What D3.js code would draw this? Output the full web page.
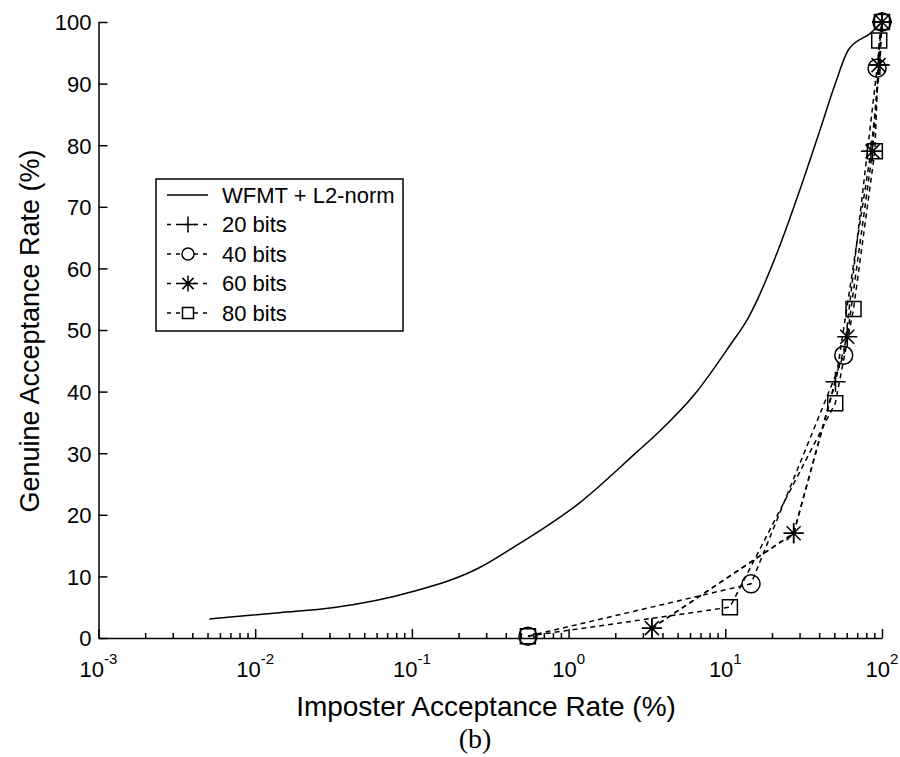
<!DOCTYPE html>
<html>
<head>
<meta charset="utf-8">
<script src="https://cdn.jsdelivr.net/npm/d3@7"></script>
<style>
    body { margin: 0; background: #fff; overflow: hidden; }
    svg { display: block; }
    text { font-family: Arial, "Liberation Sans", sans-serif; fill: #000; }
</style>
</head>
<body>
<div class="svgContainer"></div>
<script>
// solid curve: WFMT + L2-norm
let wfmtX = [0.0051, 0.0143, 0.0312, 0.1, 0.269, 0.437, 1.17, 2.81, 3.61, 6.49, 10.5, 14.1, 21.9, 29.4, 40.6, 50.5, 61.1, 84.5, 100];
let wfmtY = [3.1, 4.1, 4.9, 7.5, 11.4, 14.6, 21.9, 30.5, 33.0, 39.8, 47.2, 52.1, 63.2, 72.2, 82.8, 90.1, 95.5, 98.2, 100];

// dashed curves with markers
let bits20X = [3.4, 27.3, 50.5, 85, 97, 100];
let bits20Y = [1.6, 17.0, 41.6, 79, 93, 100];

let bits40X = [0.55, 14.6, 57, 93, 100];
let bits40Y = [0.3, 8.8, 45.9, 92.5, 100];

let bits60X = [3.4, 27.3, 60, 87, 95, 100];
let bits60Y = [1.6, 17.0, 48.9, 79, 93, 100];

let bits80X = [0.55, 10.7, 50.3, 65.8, 90, 96, 100];
let bits80Y = [0.3, 5.0, 38.1, 53.4, 79, 97, 100];

let legendLabels = ['WFMT + L2-norm', '20 bits', '40 bits', '60 bits', '80 bits'];
let markerTypes = ['plus', 'circle', 'star', 'square'];

let yTicks = [0, 10, 20, 30, 40, 50, 60, 70, 80, 90, 100];
let xTickExponents = [-3, -2, -1, 0, 1, 2];

let width = 900;
let height = 757;

let x = d3.scaleLog().domain([1e-3, 1e2]).range([98.5, 882]);
let y = d3.scaleLinear().domain([0, 100]).range([638, 22]);

let svg = d3.select('.svgContainer')
    .append('svg')
    .attr('width', width)
    .attr('height', height);

// y axis, ticks pointing inward
let yAxis = svg.append('g')
    .attr('transform', 'translate(' + x.range()[0] + ',0)')
    .call(d3.axisLeft(y).tickValues(yTicks).tickSizeInner(-9).tickSizeOuter(0).tickPadding(7));

// x axis, major and minor ticks pointing up
let minorTicks = [];
xTickExponents.slice(0, -1).forEach(function(e) {
    for (let m = 2; m < 10; m++) {
        minorTicks.push(m * Math.pow(10, e));
    }
});

let xAxis = svg.append('g')
    .attr('transform', 'translate(0,' + y(0) + ')')
    .call(d3.axisBottom(x)
        .tickValues(xTickExponents.map(function(e) { return Math.pow(10, e); }))
        .tickSizeInner(-9).tickSizeOuter(0).tickFormat(''));

svg.append('g')
    .selectAll('line')
    .data(minorTicks)
    .enter()
    .append('line')
    .attr('x1', function(d) { return x(d); })
    .attr('x2', function(d) { return x(d); })
    .attr('y1', y(0))
    .attr('y2', y(0) - 5)
    .attr('stroke', '#000')
    .attr('stroke-width', 1.5);

[yAxis, xAxis].forEach(function(ax) {
    ax.selectAll('path, line').attr('stroke', '#000').attr('stroke-width', 1.5);
    ax.selectAll('text').style('font-size', '22px').attr('fill', '#000');
});
yAxis.selectAll('text').attr('dy', '0.36em');

// power-of-ten labels
let xLabels = svg.append('g')
    .selectAll('text')
    .data(xTickExponents)
    .enter()
    .append('text')
    .attr('x', function(d) { return x(Math.pow(10, d)); })
    .attr('y', 677)
    .attr('text-anchor', 'middle')
    .style('font-size', '22px');

xLabels.append('tspan').text('10');
xLabels.append('tspan')
    .attr('dy', -13)
    .style('font-size', '15px')
    .text(function(d) { return d; });

// axis titles
svg.append('text')
    .attr('x', 486)
    .attr('y', 716)
    .attr('text-anchor', 'middle')
    .style('font-size', '28px')
    .text('Imposter Acceptance Rate (%)');

svg.append('text')
    .attr('transform', 'translate(39,331) rotate(-90)')
    .attr('text-anchor', 'middle')
    .style('font-size', '27px')
    .text('Genuine Acceptance Rate (%)');

svg.append('text')
    .attr('x', 475)
    .attr('y', 748)
    .attr('text-anchor', 'middle')
    .style('font-family', '"Liberation Serif", "Times New Roman", serif')
    .style('font-size', '28px')
    .text('(b)');

// markers
function markerPath(type, r) {
    let p = d3.path();
    if (type === 'plus' || type === 'star') {
        p.moveTo(-r, 0); p.lineTo(r, 0);
        p.moveTo(0, -r); p.lineTo(0, r);
    }
    if (type === 'star') {
        let d = r * 0.7;
        p.moveTo(-d, -d); p.lineTo(d, d);
        p.moveTo(-d, d); p.lineTo(d, -d);
    }
    if (type === 'circle') {
        p.moveTo(r, 0);
        p.arc(0, 0, r, 0, 2 * Math.PI);
    }
    if (type === 'square') {
        p.rect(-r, -r, 2 * r, 2 * r);
    }
    return p.toString();
}

let markerSize = { plus: 10, circle: 9, star: 10, square: 7.5 };

// solid curve
let smooth = d3.line()
    .x(function(d) { return x(d[0]); })
    .y(function(d) { return y(d[1]); })
    .curve(d3.curveMonotoneX);

svg.append('path')
    .datum(d3.zip(wfmtX, wfmtY))
    .attr('d', smooth)
    .attr('fill', 'none')
    .attr('stroke', '#000')
    .attr('stroke-width', 1.5);

let dashedSeries = [
    d3.zip(bits20X, bits20Y),
    d3.zip(bits40X, bits40Y),
    d3.zip(bits60X, bits60Y),
    d3.zip(bits80X, bits80Y)
];

let straight = d3.line()
    .x(function(d) { return x(d[0]); })
    .y(function(d) { return y(d[1]); });

dashedSeries.forEach(function(points, i) {
    svg.append('path')
        .datum(points)
        .attr('d', straight)
        .attr('fill', 'none')
        .attr('stroke', '#000')
        .attr('stroke-width', 1.5)
        .attr('stroke-dasharray', '5,4');

    svg.append('g')
        .selectAll('path')
        .data(points)
        .enter()
        .append('path')
        .attr('transform', function(d) { return 'translate(' + x(d[0]) + ',' + y(d[1]) + ')'; })
        .attr('d', markerPath(markerTypes[i], markerSize[markerTypes[i]]))
        .attr('fill', 'none')
        .attr('stroke', '#000')
        .attr('stroke-width', 1.5);
});

// legend
let legend = svg.append('g');

legend.append('rect')
    .attr('x', 156)
    .attr('y', 179)
    .attr('width', 247)
    .attr('height', 152)
    .attr('fill', '#fff')
    .attr('stroke', '#000')
    .attr('stroke-width', 1.5);

legendLabels.forEach(function(label, i) {
    let cy = 195 + i * 29.5;
    let row = legend.append('g');

    if (i === 0) {
        row.append('line')
            .attr('x1', 167).attr('x2', 208)
            .attr('y1', cy).attr('y2', cy)
            .attr('stroke', '#000').attr('stroke-width', 1.5);
    } else {
        row.append('line')
            .attr('x1', 167).attr('x2', 208)
            .attr('y1', cy).attr('y2', cy)
            .attr('stroke', '#000').attr('stroke-width', 1.5)
            .attr('stroke-dasharray', '4,5');
        let type = markerTypes[i - 1];
        row.append('path')
            .attr('transform', 'translate(188,' + cy + ')')
            .attr('d', markerPath(type, type === 'square' ? 5.5 : (type === 'circle' ? 6 : 8)))
            .attr('fill', type === 'plus' || type === 'star' ? 'none' : '#fff')
            .attr('stroke', '#000')
            .attr('stroke-width', 1.5);
    }

    row.append('text')
        .attr('x', 222)
        .attr('y', cy)
        .attr('dy', '0.36em')
        .style('font-size', '22px')
        .text(label);
});
</script>
</body>
</html>
